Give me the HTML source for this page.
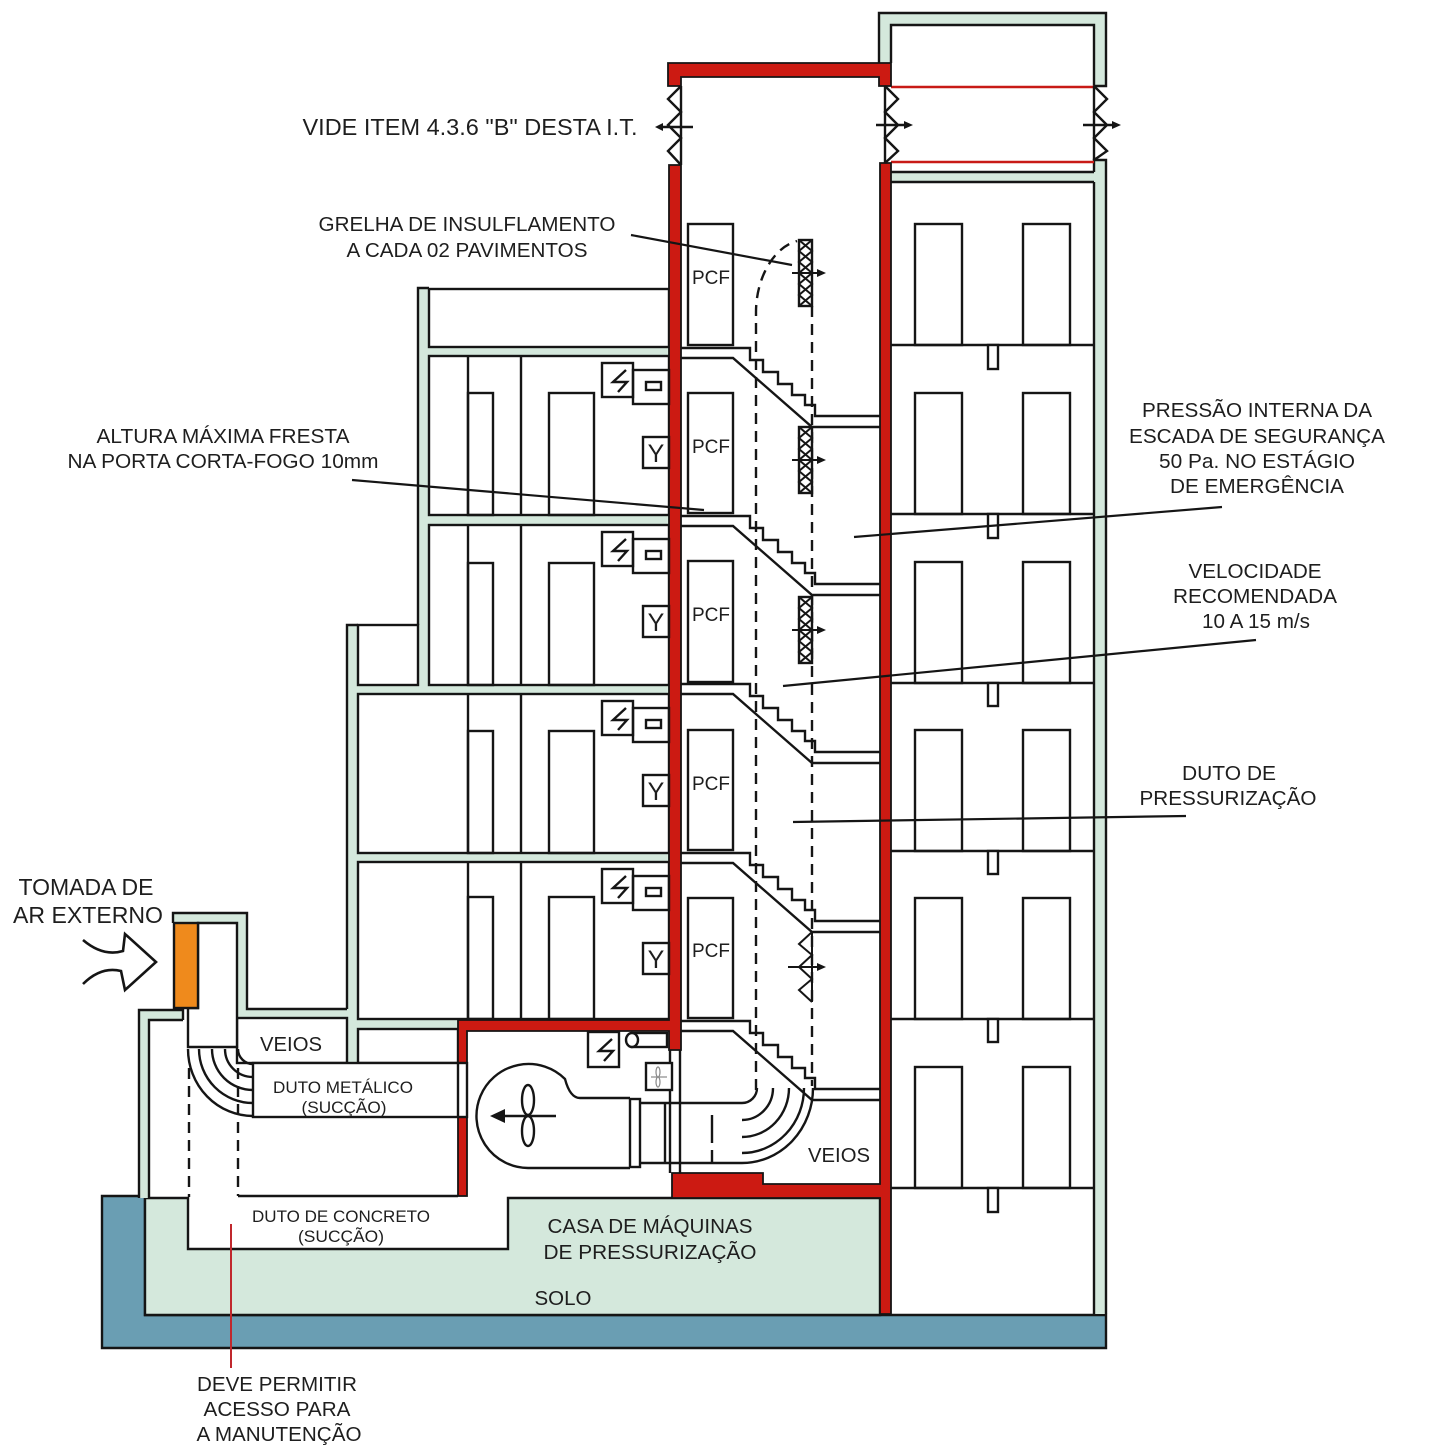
<!DOCTYPE html>
<html><head><meta charset="utf-8">
<style>
html,body{margin:0;padding:0;background:#fff;}
svg{display:block;}
text{font-family:"Liberation Sans",Arial,sans-serif;fill:#1e1e1e;}
</style></head><body>
<svg width="1432" height="1454" viewBox="0 0 1432 1454" xmlns="http://www.w3.org/2000/svg">
<rect width="1432" height="1454" fill="#fff"/>

<!-- base: blue + solo -->
<path d="M102,1196 H145 V1315 H1106 V1348 H102 Z" fill="#6a9eb3" stroke="#151515" stroke-width="2.4"/>
<path d="M145,1198 H188 V1249 H508 V1198 H880 V1315 H145 Z" fill="#d4e8dc" stroke="#151515" stroke-width="2.4"/>

<!-- green wall fills (left building) -->
<g fill="#d4e8dc">
<rect x="418" y="288" width="11" height="406"/>
<rect x="418" y="347" width="251" height="9"/>
<rect x="418" y="515" width="251" height="10"/>
<rect x="347" y="685" width="322" height="9"/>
<rect x="347" y="853" width="322" height="9"/>
<rect x="347" y="1019" width="111" height="10"/>
<rect x="347" y="625" width="11" height="438"/>
<rect x="237" y="913" width="10" height="105"/>
<rect x="173" y="913" width="74" height="10"/>
<rect x="237" y="1009" width="111" height="9"/>
<rect x="139" y="1010" width="10" height="188"/>
<rect x="139" y="1010" width="44" height="10"/>
<!-- right building -->
<rect x="879" y="13" width="227" height="12"/>
<rect x="879" y="13" width="12" height="50"/>
<rect x="1094" y="13" width="12" height="73"/>
<rect x="1094" y="160" width="12" height="1154"/>
<rect x="891" y="172" width="203" height="10"/>
</g>

<!-- rooms -->
<g fill="#fff" stroke="#151515" stroke-width="2.4">
<rect x="429" y="289" width="240" height="58"/>
<rect x="429" y="356" width="240" height="159"/>
<rect x="429" y="525" width="240" height="160"/>
<rect x="358" y="625" width="60" height="60"/>
<rect x="358" y="694" width="311" height="159"/>
<rect x="358" y="862" width="311" height="157"/>
<rect x="358" y="1029" width="100" height="34"/>
<rect x="237" y="1018" width="110" height="45"/>
<polygon points="198,923 237,923 237,1047 188,1047 188,1008 198,1008"/>
</g>

<!-- exterior outlines -->
<g fill="none" stroke="#151515" stroke-width="2.4">
<path d="M418,625 V288 H429"/>
<path d="M347,1009 V625 H358"/>
<path d="M173,923 V913 H247 V1009 H347"/>
<path d="M183,1020 V1010 H139 V1198"/>
<path d="M149,1198 V1020 H183"/>
<path d="M879,63 V13 H1106 V86 H1094 V25 H891 V63"/>
<path d="M1094,172 V160 H1106 V1314"/>
<path d="M1094,182 V1314"/>
<path d="M891,172 H1094 M891,182 H1094"/>
</g>

<!-- orange louver -->
<rect x="174" y="923" width="24" height="85" fill="#ef8a1c" stroke="#151515" stroke-width="2.4"/>

<!-- red thin lines -->
<path d="M891,87 H1094 M891,162 H1094" stroke="#c81a16" stroke-width="2.5"/>

<!-- red walls -->
<g fill="#cc1a12" stroke="#151515" stroke-width="1.8">
<path d="M668,63 H891 V86 H879 V77 H681 V86 H668 Z"/>
<path d="M458,1020 H669 V165 H681 V1050 H669 V1031 H467 V1063 H458 Z"/>
<rect x="458" y="1117" width="9" height="79"/>
<path d="M880,163 H891 V1314 H880 V1198 H672 V1173 H763 V1184 H880 Z"/>
</g>

<!-- louvers top -->
<g fill="none" stroke="#151515" stroke-width="2.4">
<path d="M681,86 L668,99 L681,112 L668,125 L681,138 L668,151 L681,165"/>
<path d="M681,86 V165"/>
<path d="M660,127 H693"/>
<path d="M885,86 V163"/>
<path d="M885,86 L898,99 L885,112 L898,125 L885,138 L898,151 L885,163"/>
<path d="M876,125 H905"/>
<path d="M1094,86 V160"/>
<path d="M1094,86 L1107,99 L1094,112 L1107,125 L1094,138 L1107,151 L1094,160"/>
<path d="M1083,125 H1113"/>
</g>
<g fill="#151515">
<polygon points="655,127 663,123 663,131"/>
<polygon points="904,121 913,125 904,129"/>
<polygon points="1112,121 1121,125 1112,129"/>
</g>

<!-- left building interior -->
<g fill="none" stroke="#151515" stroke-width="2.4">
<path d="M468,356 V515 M521,356 V515 M468,525 V685 M521,525 V685 M468,694 V853 M521,694 V853 M468,862 V1019 M521,862 V1019"/>
<rect x="468" y="393" width="25" height="122"/>
<rect x="549" y="393" width="45" height="122"/>
<rect x="468" y="563" width="25" height="122"/>
<rect x="549" y="563" width="45" height="122"/>
<rect x="468" y="731" width="25" height="122"/>
<rect x="549" y="731" width="45" height="122"/>
<rect x="468" y="897" width="25" height="122"/>
<rect x="549" y="897" width="45" height="122"/>
<!-- icons -->
<rect x="602" y="363" width="31" height="34"/>
<rect x="633" y="370" width="36" height="34"/>
<rect x="646" y="382" width="15" height="8"/>
<rect x="643" y="437" width="26" height="31"/>
<path d="M626,370 L613,382 L627,382 L618,392"/>
<rect x="602" y="532" width="31" height="34"/>
<rect x="633" y="539" width="36" height="34"/>
<rect x="646" y="551" width="15" height="8"/>
<rect x="643" y="606" width="26" height="31"/>
<path d="M626,539 L613,551 L627,551 L618,561"/>
<rect x="602" y="701" width="31" height="34"/>
<rect x="633" y="708" width="36" height="34"/>
<rect x="646" y="720" width="15" height="8"/>
<rect x="643" y="775" width="26" height="31"/>
<path d="M626,708 L613,720 L627,720 L618,730"/>
<rect x="602" y="869" width="31" height="34"/>
<rect x="633" y="876" width="36" height="34"/>
<rect x="646" y="888" width="15" height="8"/>
<rect x="643" y="943" width="26" height="31"/>
<path d="M626,876 L613,888 L627,888 L618,898"/>
</g>
<g font-size="25" text-anchor="middle">
<text x="656" y="462">Y</text>
<text x="656" y="631">Y</text>
<text x="656" y="800">Y</text>
<text x="656" y="968">Y</text>
</g>

<!-- right building interior -->
<g fill="none" stroke="#151515" stroke-width="2.4">
<path d="M891,345 H1094 M891,514 H1094 M891,683 H1094 M891,851 H1094 M891,1019 H1094 M891,1188 H1094"/>
<rect x="915" y="224" width="47" height="121"/><rect x="1023" y="224" width="47" height="121"/>
<rect x="915" y="393" width="47" height="121"/><rect x="1023" y="393" width="47" height="121"/>
<rect x="915" y="562" width="47" height="121"/><rect x="1023" y="562" width="47" height="121"/>
<rect x="915" y="730" width="47" height="121"/><rect x="1023" y="730" width="47" height="121"/>
<rect x="915" y="898" width="47" height="121"/><rect x="1023" y="898" width="47" height="121"/>
<rect x="915" y="1067" width="47" height="121"/><rect x="1023" y="1067" width="47" height="121"/>
</g>
<g fill="#fff" stroke="#151515" stroke-width="2.4">
<rect x="988" y="345" width="10" height="24"/>
<rect x="988" y="514" width="10" height="24"/>
<rect x="988" y="683" width="10" height="23"/>
<rect x="988" y="851" width="10" height="23"/>
<rect x="988" y="1019" width="10" height="23"/>
<rect x="988" y="1188" width="10" height="24"/>
</g>

<!-- stairs -->
<g fill="none" stroke="#151515" stroke-width="2.4">
<path d="M681,348 H750 V360 H763 V372 H778 V384 H792 V395 H805 V405 H815 V416 H880 M880,427 H812 L733,358 H681"/>
<path d="M681,516 H750 V528 H763 V540 H778 V552 H792 V563 H805 V573 H815 V584 H880 M880,595 H812 L733,526 H681"/>
<path d="M681,684 H750 V696 H763 V708 H778 V720 H792 V731 H805 V741 H815 V752 H880 M880,763 H812 L733,694 H681"/>
<path d="M681,853 H750 V865 H763 V877 H778 V889 H792 V900 H805 V910 H815 V921 H880 M880,932 H812 L733,863 H681"/>
<path d="M681,1021 H750 V1033 H763 V1045 H778 V1057 H792 V1068 H805 V1078 H815 V1089 H880 M880,1100 H812 L733,1031 H681"/>
<!-- PCF doors -->
<rect x="688" y="224" width="45" height="121"/>
<rect x="688" y="393" width="45" height="120"/>
<rect x="688" y="561" width="45" height="121"/>
<rect x="688" y="730" width="45" height="120"/>
<rect x="688" y="898" width="45" height="120"/>
</g>
<g font-size="19" text-anchor="middle">
<text x="711" y="284" textLength="38" lengthAdjust="spacingAndGlyphs">PCF</text>
<text x="711" y="453" textLength="38" lengthAdjust="spacingAndGlyphs">PCF</text>
<text x="711" y="621" textLength="38" lengthAdjust="spacingAndGlyphs">PCF</text>
<text x="711" y="790" textLength="38" lengthAdjust="spacingAndGlyphs">PCF</text>
<text x="711" y="957" textLength="38" lengthAdjust="spacingAndGlyphs">PCF</text>
</g>

<!-- dashed pressurization duct -->
<g fill="none" stroke="#151515" stroke-width="2.4" stroke-dasharray="11 7">
<path d="M756,1090 V312 C756,280 772,248 797,241"/>
<path d="M812,306 V1086"/>
<path d="M189,1068 V1197"/>
<path d="M238,1068 V1196"/>
</g>

<!-- grilles -->
<g fill="#fff" stroke="#151515" stroke-width="2.4">
<rect x="799" y="240" width="13" height="66"/>
<rect x="799" y="427" width="13" height="66"/>
<rect x="799" y="597" width="13" height="66"/>
</g>
<g fill="none" stroke="#151515" stroke-width="2">
<path d="M799,240 L812,251 L799,262 L812,273 L799,284 L812,295 L799,306 M812,240 L799,251 L812,262 L799,273 L812,284 L799,295 L812,306"/>
<path d="M799,427 L812,438 L799,449 L812,460 L799,471 L812,482 L799,493 M812,427 L799,438 L812,449 L799,460 L812,471 L799,482 L812,493"/>
<path d="M799,597 L812,608 L799,619 L812,630 L799,641 L812,652 L799,663 M812,597 L799,608 L812,619 L799,630 L812,641 L799,652 L812,663"/>
<path d="M812,932 V1002 M812,932 L799,944 L812,955 L799,967 L812,979 L799,990 L812,1002"/>
<path d="M792,273 H818 M792,460 H818 M792,630 H818 M788,967 H818"/>
</g>
<g fill="#151515">
<polygon points="817,269 826,273 817,277"/>
<polygon points="817,456 826,460 817,464"/>
<polygon points="817,626 826,630 817,634"/>
<polygon points="817,963 826,967 817,971"/>
</g>

<!-- left intake duct, elbow, metal duct -->
<g fill="none" stroke="#151515" stroke-width="2.4">
<rect x="253" y="1063" width="214" height="54" fill="#fff"/>
<path d="M458,1063 V1117"/>
<path d="M238,1049 A15,15 0 0 0 253,1064"/>
<path d="M225,1049 A28,28 0 0 0 253,1077"/>
<path d="M212,1049 A41,41 0 0 0 253,1090"/>
<path d="M199,1049 A54,54 0 0 0 253,1103"/>
<path d="M188,1049 A65,67 0 0 0 253,1116"/>
<path d="M238,1196 H458"/>
</g>

<!-- machine room -->
<g fill="none" stroke="#151515" stroke-width="2.4">
<path d="M670,1050 V1173 M680,1050 V1173"/>
<path d="M630,1098 H580 Q570,1098 565,1079 A52,52 0 1,0 528,1168 H630" fill="#fff"/>
<rect x="630" y="1099" width="10" height="68" fill="#fff"/>
<path d="M640,1103 H742 M640,1163 H742 M665,1103 V1163"/>
<path d="M757,1088 A15,15 0 0 1 742,1103"/>
<path d="M773,1088 A31,32 0 0 1 742,1120"/>
<path d="M789,1088 A47,49 0 0 1 742,1137"/>
<path d="M804,1088 A62,65 0 0 1 742,1153"/>
<path d="M813,1088 A71,75 0 0 1 742,1163"/>
<path d="M712,1115 V1143 M712,1150 V1162"/>
<ellipse cx="528" cy="1100" rx="6" ry="15"/>
<ellipse cx="528" cy="1131" rx="6" ry="15"/>
<path d="M503,1116 H556"/>
<rect x="588" y="1032" width="31" height="35" fill="#fff"/>
<path d="M612,1039 L599,1051 L613,1051 L604,1061"/>
<rect x="632" y="1033" width="35" height="14" fill="#fff"/>
<ellipse cx="632" cy="1040" rx="6" ry="7" fill="#fff"/>
<rect x="646" y="1063" width="26" height="27" fill="#fff"/>
</g>
<polygon points="490,1116 505,1109 505,1123" fill="#151515"/>
<g fill="none" stroke="#888" stroke-width="1.2">
<ellipse cx="658" cy="1072" rx="2" ry="5"/>
<ellipse cx="658" cy="1082" rx="2" ry="5"/>
<path d="M651,1077 H667"/>
</g>

<!-- tomada arrow -->
<path d="M83,940 Q103,957 123,951 L125,934 L156,962 L125,990 L121,971 Q101,966 83,984" fill="none" stroke="#151515" stroke-width="2.6"/>

<!-- leader lines -->
<g stroke="#151515" stroke-width="2.2" fill="none">
<path d="M631,235 L792,265"/>
<path d="M352,480 L704,510"/>
<path d="M1222,507 L854,537"/>
<path d="M1256,640 L783,686"/>
<path d="M1186,816 L793,822"/>
</g>
<path d="M231,1224 V1368" stroke="#c0282d" stroke-width="2"/>

<!-- labels -->
<g font-size="20" text-anchor="middle">
<text x="470" y="135" font-size="23" textLength="335" lengthAdjust="spacingAndGlyphs">VIDE ITEM 4.3.6 "B" DESTA I.T.</text>
<text x="467" y="231" textLength="297" lengthAdjust="spacingAndGlyphs">GRELHA DE INSULFLAMENTO</text>
<text x="467" y="257" textLength="241" lengthAdjust="spacingAndGlyphs">A CADA 02 PAVIMENTOS</text>
<text x="223" y="443" textLength="253" lengthAdjust="spacingAndGlyphs">ALTURA MÁXIMA FRESTA</text>
<text x="223" y="468" textLength="311" lengthAdjust="spacingAndGlyphs">NA PORTA CORTA-FOGO 10mm</text>
<text x="1257" y="417" textLength="230" lengthAdjust="spacingAndGlyphs">PRESSÃO INTERNA DA</text>
<text x="1257" y="443" textLength="256" lengthAdjust="spacingAndGlyphs">ESCADA DE SEGURANÇA</text>
<text x="1257" y="468" textLength="196" lengthAdjust="spacingAndGlyphs">50 Pa. NO ESTÁGIO</text>
<text x="1257" y="493" textLength="174" lengthAdjust="spacingAndGlyphs">DE EMERGÊNCIA</text>
<text x="1255" y="578" textLength="133" lengthAdjust="spacingAndGlyphs">VELOCIDADE</text>
<text x="1255" y="603" textLength="164" lengthAdjust="spacingAndGlyphs">RECOMENDADA</text>
<text x="1256" y="628" textLength="108" lengthAdjust="spacingAndGlyphs">10 A 15 m/s</text>
<text x="1229" y="780" textLength="94" lengthAdjust="spacingAndGlyphs">DUTO DE</text>
<text x="1228" y="805" textLength="177" lengthAdjust="spacingAndGlyphs">PRESSURIZAÇÃO</text>
<text x="86" y="895" font-size="23" textLength="135" lengthAdjust="spacingAndGlyphs">TOMADA DE</text>
<text x="88" y="923" font-size="23" textLength="150" lengthAdjust="spacingAndGlyphs">AR EXTERNO</text>
<text x="291" y="1051" textLength="62" lengthAdjust="spacingAndGlyphs">VEIOS</text>
<text x="343" y="1093" font-size="17" textLength="140" lengthAdjust="spacingAndGlyphs">DUTO METÁLICO</text>
<text x="344" y="1113" font-size="17" textLength="85" lengthAdjust="spacingAndGlyphs">(SUCÇÃO)</text>
<text x="341" y="1222" font-size="17" textLength="178" lengthAdjust="spacingAndGlyphs">DUTO DE CONCRETO</text>
<text x="341" y="1242" font-size="17" textLength="86" lengthAdjust="spacingAndGlyphs">(SUCÇÃO)</text>
<text x="650" y="1233" textLength="205" lengthAdjust="spacingAndGlyphs">CASA DE MÁQUINAS</text>
<text x="650" y="1259" textLength="213" lengthAdjust="spacingAndGlyphs">DE PRESSURIZAÇÃO</text>
<text x="563" y="1305" textLength="57" lengthAdjust="spacingAndGlyphs">SOLO</text>
<text x="839" y="1162" textLength="62" lengthAdjust="spacingAndGlyphs">VEIOS</text>
<text x="277" y="1391" textLength="160" lengthAdjust="spacingAndGlyphs">DEVE PERMITIR</text>
<text x="277" y="1416" textLength="147" lengthAdjust="spacingAndGlyphs">ACESSO PARA</text>
<text x="279" y="1441" textLength="165" lengthAdjust="spacingAndGlyphs">A MANUTENÇÃO</text>
</g>
</svg>
</body></html>
